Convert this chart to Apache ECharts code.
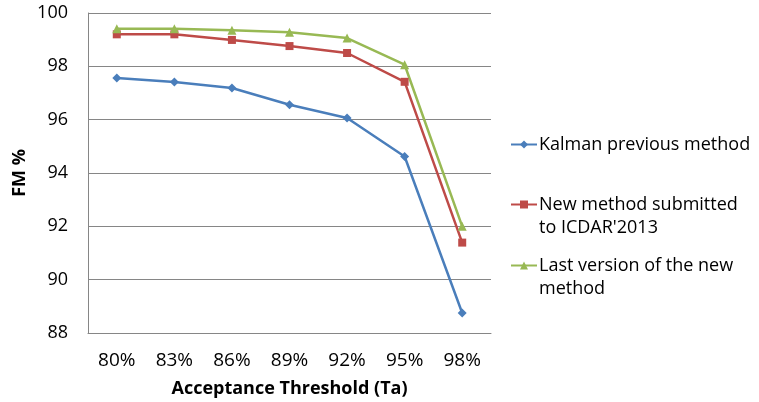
<!doctype html>
<html lang="en" style="height: 100%">
<head>
  <meta charset="utf-8" />
  <script type="text/javascript" src="https://fastly.jsdelivr.net/npm/echarts@6.0.0/dist/echarts.min.js"></script>
</head>
<body style="height: 100%; margin: 0; background: #fff">
  <div id="main" style="width: 759px; height: 402px"></div>
  <script type="text/javascript">
    var categories = ['80%', '83%', '86%', '89%', '92%', '95%', '98%'];
    var kalman = [97.56, 97.41, 97.19, 96.56, 96.06, 94.62, 88.75];
    var icdar = [99.2, 99.2, 98.99, 98.76, 98.5, 97.42, 91.39];
    var lastVersion = [99.41, 99.41, 99.35, 99.28, 99.06, 98.06, 92.0];
    var names = ['Kalman previous method', "New method submitted\nto ICDAR'2013", 'Last version of the new\nmethod'];

    var font = 'Open Sans';
    var myChart = echarts.init(document.getElementById('main'));

    // icon sits on the first line of a two-line label: pad with a blank line above
    function legendAt(name, top, twoLines) {
      return {
        data: [name],
        left: 510,
        top: top,
        padding: 0,
        itemWidth: 26,
        itemHeight: 10,
        itemGap: 0,
        formatter: function (n) { return twoLines ? '\n' + n : n; },
        textStyle: { fontFamily: font, fontSize: 18, color: '#000', lineHeight: 23, padding: [0, 0, 0, -3] }
      };
    }

    var option = {
      animation: false,
      grid: { left: 88, right: 268, top: 13, bottom: 69, outerBoundsMode: 'none' },
      legend: [legendAt(names[0], 133, false), legendAt(names[1], 170, true), legendAt(names[2], 231, true)],
      xAxis: {
        type: 'category',
        data: categories,
        name: 'Acceptance Threshold (Ta)',
        nameLocation: 'middle',
        nameGap: 47,
        nameMoveOverlap: false,
        nameTextStyle: { fontFamily: font, fontSize: 18, fontWeight: 'bold', color: '#000' },
        axisLine: { lineStyle: { color: '#868686', width: 1 } },
        axisTick: { show: false },
        axisLabel: { fontFamily: font, fontSize: 19, color: '#000', margin: 18 }
      },
      yAxis: {
        type: 'value',
        min: 88,
        max: 100,
        interval: 2,
        name: 'FM %',
        nameLocation: 'middle',
        nameGap: 59,
        nameMoveOverlap: false,
        nameTextStyle: { fontFamily: font, fontSize: 18, fontWeight: 'bold', color: '#000' },
        axisLine: { show: true, lineStyle: { color: '#868686', width: 1 } },
        axisTick: { show: false },
        splitLine: { lineStyle: { color: '#868686', width: 1 } },
        axisLabel: { fontFamily: font, fontSize: 18, color: '#000', margin: 20 }
      },
      series: [
        {
          name: names[0], type: 'line', data: kalman,
          symbol: 'diamond', symbolSize: 9,
          itemStyle: { color: '#4a7ebb' }, lineStyle: { width: 2.5 }
        },
        {
          name: names[1], type: 'line', data: icdar,
          symbol: 'rect', symbolSize: 8,
          itemStyle: { color: '#be4b48' }, lineStyle: { width: 2.5 }
        },
        {
          name: names[2], type: 'line', data: lastVersion,
          symbol: 'triangle', symbolSize: 9,
          itemStyle: { color: '#98b954' }, lineStyle: { width: 2.5 }
        }
      ]
    };
    myChart.setOption(option);
  </script>
</body>
</html>
